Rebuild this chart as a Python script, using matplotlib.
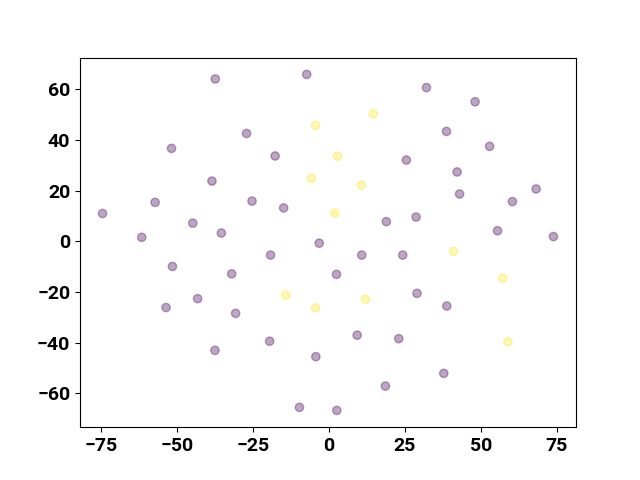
import matplotlib
matplotlib.use("Agg")
import matplotlib.pyplot as plt
from matplotlib.ticker import MultipleLocator
import numpy as np

x = [-37.4, -7.3, -4.4, -27.1, -51.8, -17.7, -5.7, -38.5, -57.2, -25.3,
     -14.9, -74.5, -44.8, -35.4, -61.6,
     32.1, 48.1, 14.6, 38.7, 52.9, 2.8, 25.5, 42.2, 10.7, 68.2,
     43.0, 60.4, 1.9, 18.9, 28.7, 55.5, 73.9,
     -3.2, -19.2, -51.5, -32.0, -14.2, -43.2, -4.4, -53.6, -30.7, -19.5,
     -37.5, -4.3, -9.7,
     10.8, 24.3, 41.0, 2.5, 57.2, 12.0, 29.0, 38.8, 9.3, 23.0,
     58.9, 37.8, 18.6, 2.6]
y = [64.1, 65.9, 45.8, 42.6, 36.7, 33.7, 24.9, 23.8, 15.4, 15.9,
     13.2, 11.0, 7.2, 3.3, 1.6,
     60.7, 55.1, 50.3, 43.4, 37.5, 33.6, 32.1, 27.4, 22.2, 20.7,
     18.7, 15.7, 11.2, 7.8, 9.6, 4.2, 1.9,
     -0.7, -5.4, -9.9, -12.8, -21.2, -22.6, -26.2, -26.1, -28.4, -39.4,
     -43.0, -45.5, -65.5,
     -5.4, -5.4, -3.9, -13.0, -14.5, -22.8, -20.5, -25.5, -37.0, -38.4,
     -39.6, -52.1, -57.1, -66.7]
label = [0, 0, 1, 0, 0, 0, 1, 0, 0, 0,
         0, 0, 0, 0, 0,
         0, 0, 1, 0, 0, 1, 0, 0, 1, 0,
         0, 0, 1, 0, 0, 0, 0,
         0, 0, 0, 0, 1, 0, 1, 0, 0, 0,
         0, 0, 0,
         0, 0, 1, 0, 1, 1, 0, 0, 0, 0,
         1, 0, 0, 0]

plt.rcParams['font.family'] = ['Roboto', 'DejaVu Sans']
fig, ax = plt.subplots(figsize=(6.4, 4.8), dpi=100)
ax.scatter(x, y, c=label, cmap='viridis', alpha=0.35)
ax.xaxis.set_major_locator(MultipleLocator(25))
ax.yaxis.set_major_locator(MultipleLocator(20))
for lab in ax.get_xticklabels() + ax.get_yticklabels():
    lab.set_fontweight('bold')
    lab.set_fontsize(14)
fig.savefig('out.png', dpi=100)
